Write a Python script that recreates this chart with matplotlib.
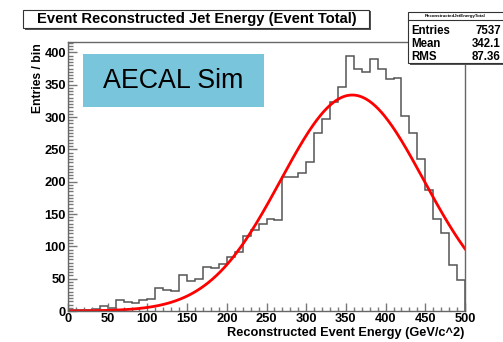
import numpy as np
import matplotlib
matplotlib.use("Agg")
import matplotlib.pyplot as plt
import matplotlib.patches as patches
from matplotlib.ticker import MultipleLocator

plt.rcParams['font.family'] = ['Liberation Sans', 'DejaVu Sans']

# Histogram contents, 10 GeV bins from 0 to 500
bin_edges = list(range(0, 510, 10))
counts = [1, 2, 2, 3, 8, 5, 17, 14, 13, 17,
          19, 35, 32, 31, 56, 46, 50, 68, 66, 72,
          84, 91, 116, 126, 135, 143, 140, 208, 208, 214,
          230, 276, 297, 323, 346, 394, 375, 369, 389, 374,
          359, 360, 302, 276, 235, 187, 142, 120, 71, 48]

# Gaussian fit parameters (amplitude, mean, sigma)
fit_amp = 334.0
fit_mean = 358.0
fit_sigma = 90.0

stats_name = "ReconstructedJetEnergyTotal"
stats_rows = [("Entries", "7537"), ("Mean", "342.1"), ("RMS", "87.36")]

W, H = 503, 342


def fx(x):
    return x / W


def fy(y):
    return 1 - y / H


fig = plt.figure(figsize=(W / 100, H / 100), dpi=100)
fig.patch.set_facecolor("white")

# frame in pixels: left 68, right 465, top 42, bottom 311
ax = fig.add_axes([fx(68), fy(311), (465 - 68) / W, (311 - 42) / H])
ax.set_xlim(0, 500)
ax.set_ylim(0, 416)

ax.stairs(counts, bin_edges, color="#555555", linewidth=1.1, baseline=0)

xs = np.linspace(0, 500, 400)
ax.plot(xs, fit_amp * np.exp(-0.5 * ((xs - fit_mean) / fit_sigma) ** 2),
        color="#ff0000", linewidth=2.0)

for s in ax.spines.values():
    s.set_color("#666666")
    s.set_linewidth(1.0)

ax.xaxis.set_major_locator(MultipleLocator(50))
ax.xaxis.set_minor_locator(MultipleLocator(10))
ax.yaxis.set_major_locator(MultipleLocator(50))
ax.yaxis.set_minor_locator(MultipleLocator(5))
ax.tick_params(axis="x", which="major", direction="in", length=5.5, width=1,
               color="#777777", pad=1.5, labelsize=9.3)
ax.tick_params(axis="x", which="minor", direction="in", length=2.8, width=1,
               color="#777777")
ax.tick_params(axis="y", which="major", direction="in", length=6.5, width=1,
               color="#777777", pad=1.5, labelsize=9.3)
ax.tick_params(axis="y", which="minor", direction="in", length=3.6, width=1,
               color="#777777")
for lab in ax.get_xticklabels() + ax.get_yticklabels():
    lab.set_fontweight("bold")

fig.text(fx(464), fy(333), "Reconstructed Event Energy (GeV/c^2)",
         ha="right", va="center", fontsize=9.2, fontweight="bold")
fig.text(fx(38), fy(43), "Entries / bin", rotation=90,
         ha="center", va="top", fontsize=8.7, fontweight="bold")

# title box with shadow
fig.patches.append(patches.Rectangle((fx(25), fy(30)), (371 - 25) / W, 19 / H,
                                     transform=fig.transFigure,
                                     facecolor="#555555", edgecolor="none"))
fig.patches.append(patches.Rectangle((fx(23), fy(28)), (369 - 23) / W, 18 / H,
                                     transform=fig.transFigure,
                                     facecolor="white", edgecolor="#333333",
                                     linewidth=0.8))
fig.text(fx(197), fy(19.5), "Event Reconstructed Jet Energy (Event Total)",
         ha="center", va="center", fontsize=10.6, fontweight="bold")

# statistics box
fig.patches.append(patches.Rectangle((fx(410), fy(65)), 100 / W, 53 / H,
                                     transform=fig.transFigure,
                                     facecolor="#555555", edgecolor="none"))
fig.patches.append(patches.Rectangle((fx(408), fy(63)), 100 / W, 51 / H,
                                     transform=fig.transFigure,
                                     facecolor="white", edgecolor="#333333",
                                     linewidth=0.8))
fig.lines.append(plt.Line2D([fx(408), fx(503)], [fy(20), fy(20)],
                            transform=fig.transFigure, color="#333333",
                            linewidth=0.8))
fig.text(fx(455), fy(16), stats_name, ha="center", va="center",
         fontsize=3.2, fontweight="bold")
for i, (name, val) in enumerate(stats_rows):
    yy = 31 + i * 12.8
    fig.text(fx(411), fy(yy), name, ha="left", va="center",
             fontsize=8.3, fontweight="bold")
    fig.text(fx(501), fy(yy), val, ha="right", va="center",
             fontsize=8.3, fontweight="bold")

# label box inside the frame
fig.patches.append(patches.Rectangle((fx(83), fy(107)), (264 - 83) / W, 53 / H,
                                     transform=fig.transFigure,
                                     facecolor="#79c5db", edgecolor="none"))
fig.text(fx(173), fy(81), "AECAL Sim", ha="center", va="center",
         fontsize=19.3, color="black")

fig.savefig("out.png", dpi=100)
